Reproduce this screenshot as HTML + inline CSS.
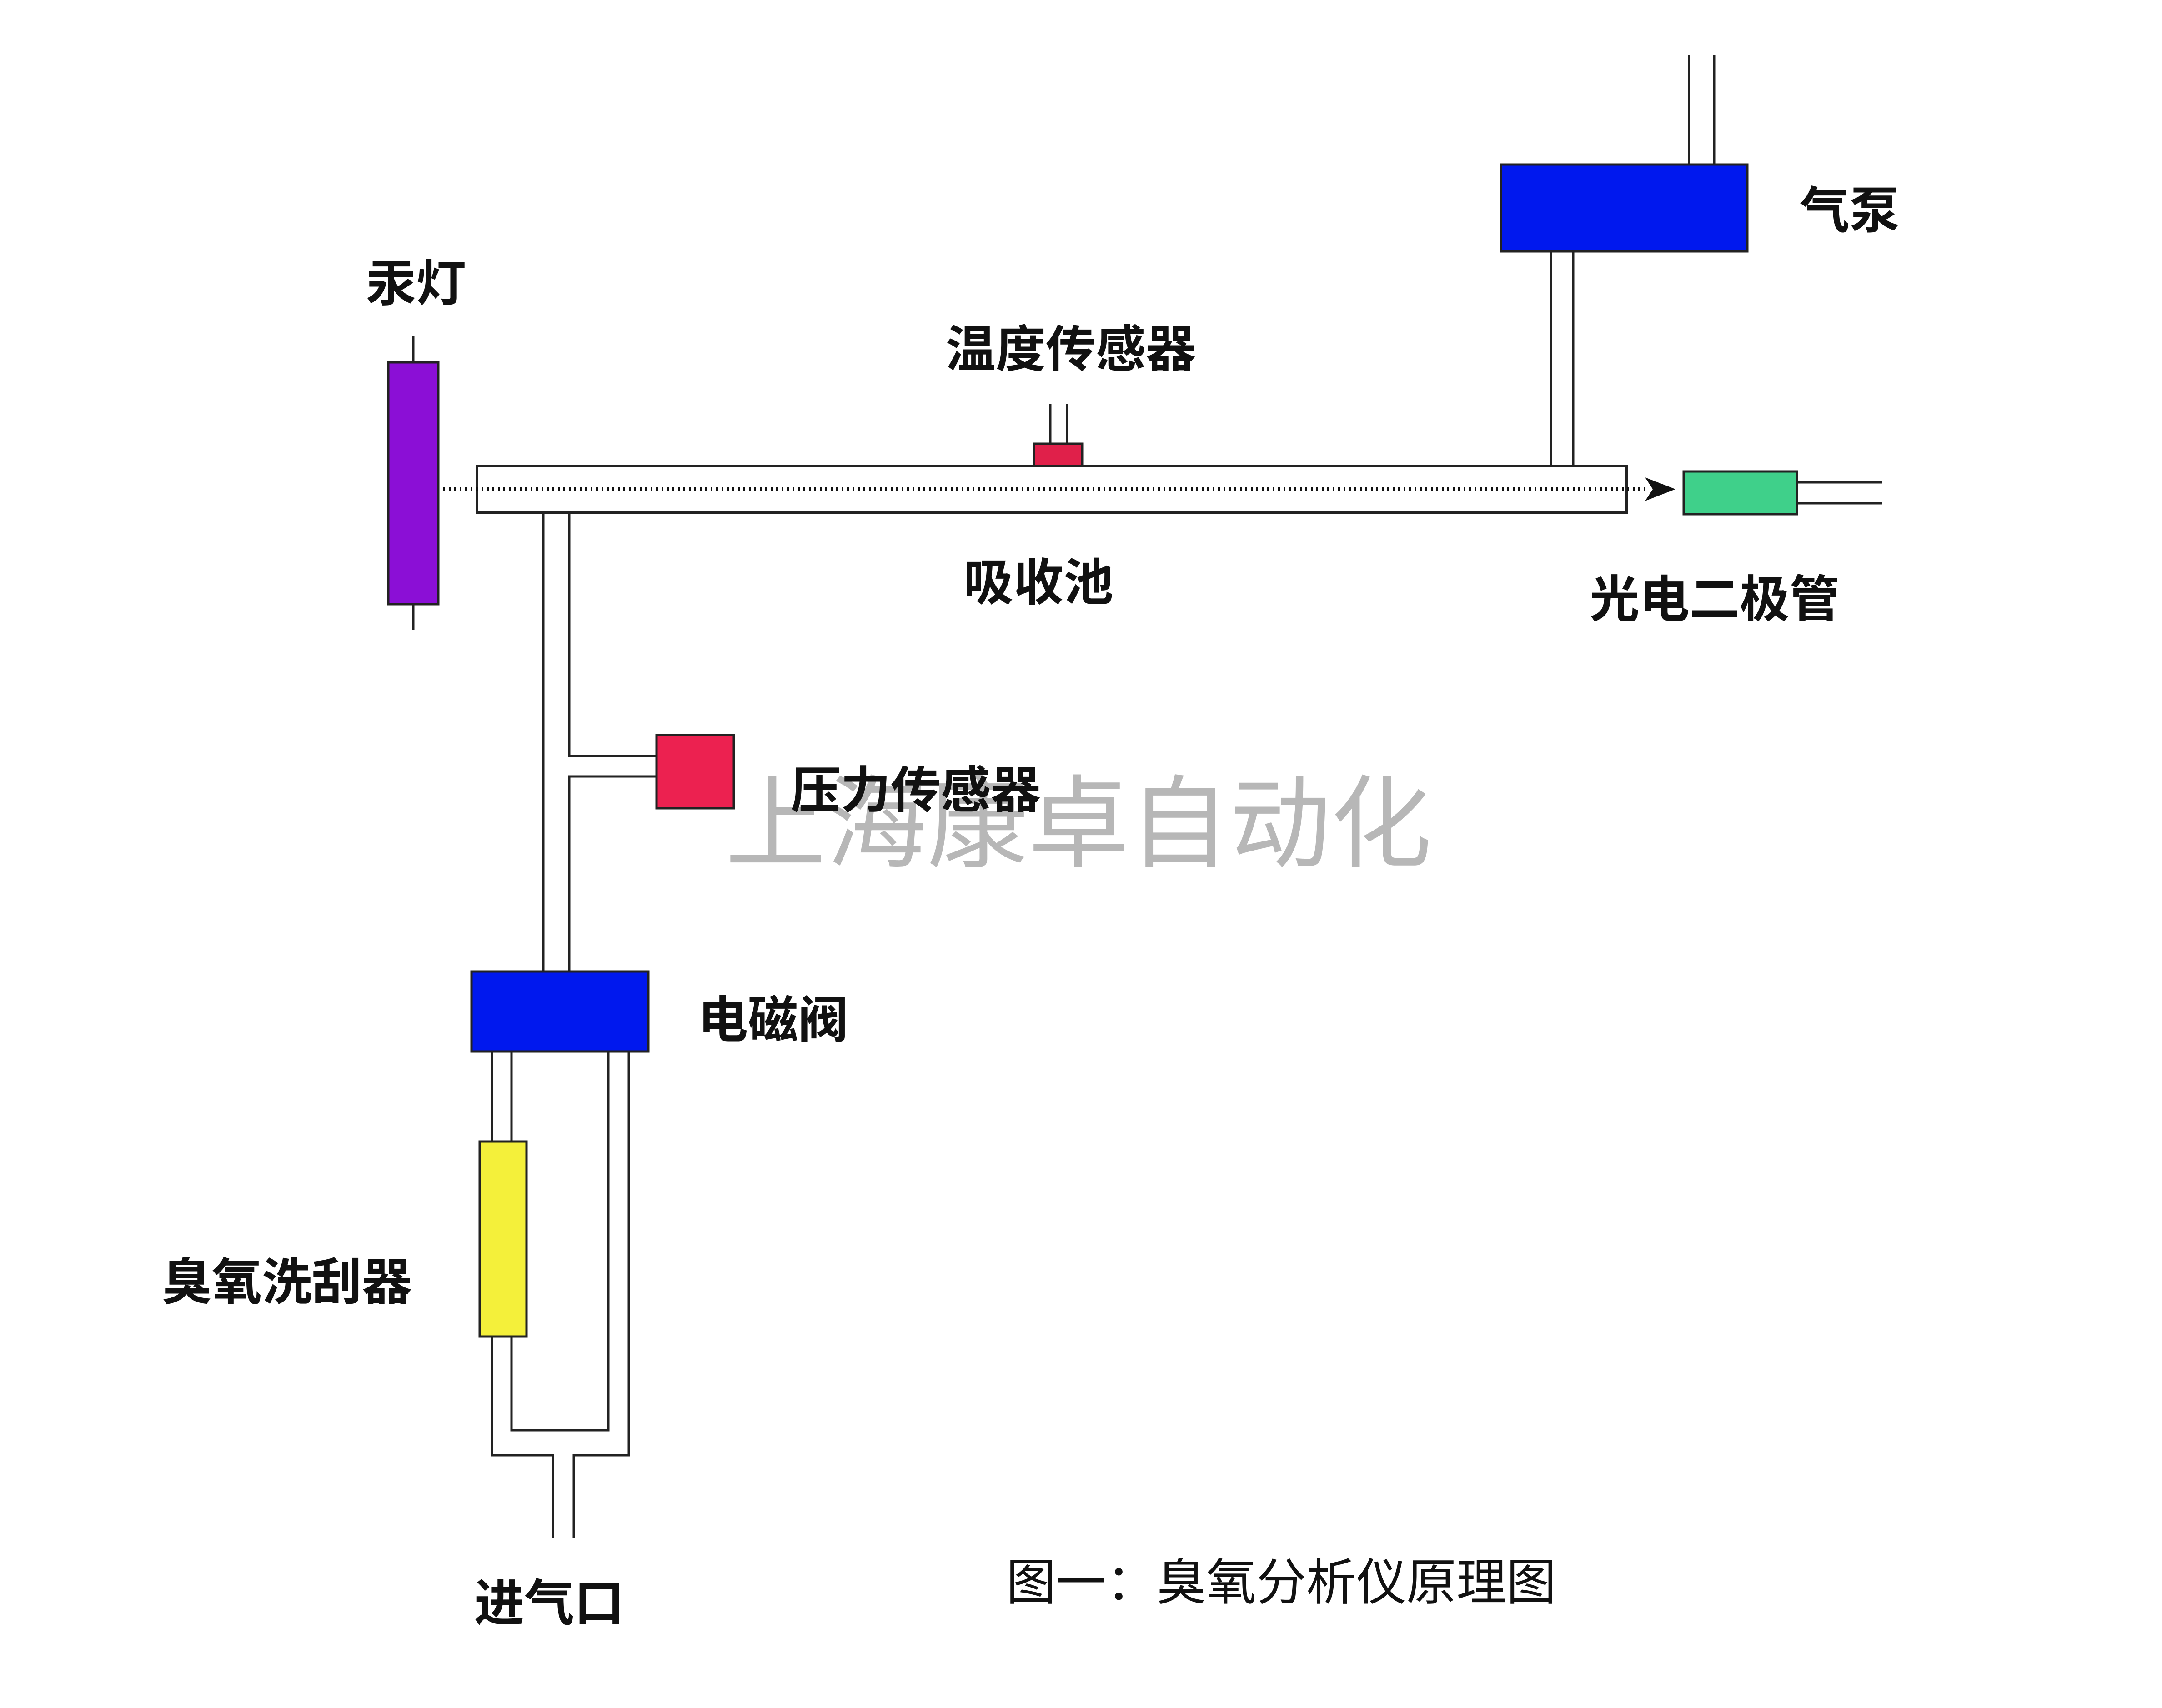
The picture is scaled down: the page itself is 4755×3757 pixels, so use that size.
<!DOCTYPE html>
<html><head><meta charset="utf-8"><style>
html,body{margin:0;padding:0;background:#fff}
svg{display:block}
text{font-family:"Liberation Sans","WenQuanYi Zen Hei","Noto Sans CJK SC",sans-serif;fill:#111}
</style></head><body>
<svg width="4755" height="3757" viewBox="0 0 4755 3757" xmlns="http://www.w3.org/2000/svg">
<rect width="4755" height="3757" fill="#fff"/>
<g stroke="#222" stroke-width="5" fill="none">
<line x1="909" y1="740" x2="909" y2="797"/>
<line x1="909" y1="1329" x2="909" y2="1385"/>
<line x1="2310" y1="888" x2="2310" y2="976"/>
<line x1="2347" y1="888" x2="2347" y2="976"/>
<line x1="3715" y1="122" x2="3715" y2="362"/>
<line x1="3770" y1="122" x2="3770" y2="362"/>
<line x1="3411" y1="553" x2="3411" y2="1025"/>
<line x1="3460" y1="553" x2="3460" y2="1025"/>
<line x1="3952" y1="1061" x2="4140" y2="1061"/>
<line x1="3952" y1="1107" x2="4140" y2="1107"/>
<line x1="1195" y1="1128" x2="1195" y2="2137"/>
<polyline points="1252,1128 1252,1663 1444,1663"/>
<polyline points="1444,1708 1252,1708 1252,2137"/>
<line x1="1082" y1="2313" x2="1082" y2="2511"/>
<line x1="1125" y1="2313" x2="1125" y2="2511"/>
<polyline points="1082,2940 1082,3201 1216,3201 1216,3384"/>
<polyline points="1125,2940 1125,3146 1338,3146 1338,2313"/>
<polyline points="1383,2313 1383,3201 1262,3201 1262,3384"/>
</g>
<rect x="1049" y="1025" width="2529" height="103" fill="#fff" stroke="#222" stroke-width="6"/>
<line x1="975" y1="1076" x2="3620" y2="1076" stroke="#111" stroke-width="8" stroke-dasharray="4,8"/>
<polygon points="3618,1050 3685,1076 3618,1102 3635,1076" fill="#111"/>
<rect x="854" y="797" width="110" height="532" fill="#8b0fd6" stroke="#222" stroke-width="5"/>
<rect x="2274" y="976" width="106" height="49" fill="#e0204a" stroke="#222" stroke-width="5"/>
<rect x="3301" y="362" width="542" height="191" fill="#0018ee" stroke="#222" stroke-width="5"/>
<rect x="3703" y="1037" width="249" height="94" fill="#3fd08a" stroke="#222" stroke-width="5"/>
<rect x="1444" y="1617" width="170" height="161" fill="#ec2150" stroke="#222" stroke-width="5"/>
<rect x="1037" y="2137" width="389" height="176" fill="#0018ee" stroke="#222" stroke-width="5"/>
<rect x="1055" y="2511" width="103" height="429" fill="#f4f03a" stroke="#222" stroke-width="5"/>
<text x="1595" y="1890" font-size="222" style="fill:#9a9a9a;opacity:0.7">上海康卓自动化</text>
<g font-size="110" font-weight="bold">
<text x="805" y="662">汞灯</text>
<text x="2080" y="807">温度传感器</text>
<text x="3958" y="502">气泵</text>
<text x="2119" y="1320">吸收池</text>
<text x="3496" y="1357">光电二极管</text>
<text x="1739" y="1777">压力传感器</text>
<text x="1535" y="2282">电磁阀</text>
<text x="356" y="2859">臭氧洗刮器</text>
<text x="1043" y="3565">进气口</text>
<text x="2213" y="3519" font-weight="normal">图一：臭氧分析仪原理图</text>
</g>
</svg>
</body></html>
